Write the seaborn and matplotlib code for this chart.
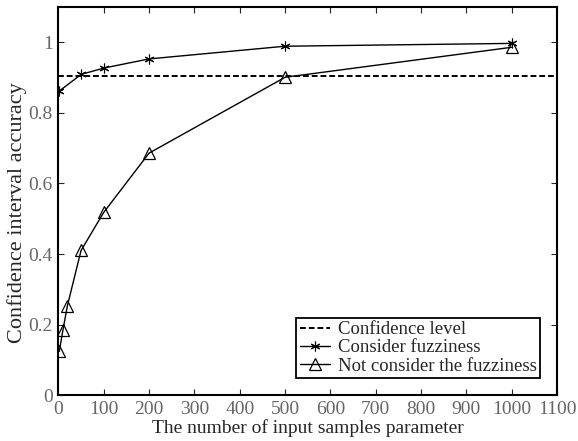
import numpy as np
import pandas as pd
import seaborn as sns
import matplotlib.pyplot as plt

# readings from the reference figure
n_fuzzy = [2, 50, 100, 200, 500, 1000]
acc_fuzzy = [0.862, 0.909, 0.927, 0.953, 0.989, 0.997]

n_plain = [2, 10, 20, 50, 100, 200, 500, 1000]
acc_plain = [0.124, 0.184, 0.254, 0.41, 0.518, 0.686, 0.901, 0.986]

conf_level = 0.905
xticks = list(range(0, 1101, 100))
yticks = [0, 0.2, 0.4, 0.6, 0.8, 1]

sns.set_style("ticks")
plt.rcParams["font.family"] = ["Liberation Serif", "DejaVu Serif"]

fig = plt.figure(figsize=(5.78, 4.41), dpi=100)
ax = fig.add_axes([0.101, 0.104, 0.863, 0.880])

ax.axhline(conf_level, color="k", ls=(0, (3, 1.5)), lw=1.4, label="Confidence level")
df_f = pd.DataFrame({"n": n_fuzzy, "acc": acc_fuzzy})
sns.lineplot(data=df_f, x="n", y="acc", ax=ax, color="k", lw=1.0, marker=(6, 2, 0),
             markersize=7, markeredgecolor="k", markeredgewidth=0.8,
             label="Consider fuzziness")
df_p = pd.DataFrame({"n": n_plain, "acc": acc_plain})
sns.lineplot(data=df_p, x="n", y="acc", ax=ax, color="k", lw=1.0, marker="^",
             markersize=9, markerfacecolor="none", markeredgecolor="k",
             markeredgewidth=0.9, label="Not consider the fuzziness")

ax.set_xlim(0, 1100)
ax.set_ylim(0, 1.1)
ax.set_xticks(xticks)
ax.set_yticks(yticks)
ax.set_yticklabels(["0", "0.2", "0.4", "0.6", "0.8", "1"])
ax.tick_params(direction="in", top=True, right=True, length=4, width=0.8,
               labelsize=14, labelcolor="#666666", pad=4)
for s in ax.spines.values():
    s.set_linewidth(1.5)
    s.set_color("k")
ax.set_xlabel("The number of input samples parameter", fontsize=14, labelpad=1)
ax.set_ylabel("Confidence interval accuracy", fontsize=16)
ax.yaxis.set_label_coords(-0.062, 0.47)

leg = ax.legend(loc="lower right", fontsize=13.5, frameon=True, fancybox=False,
                edgecolor="k", framealpha=1, borderpad=0.2, labelspacing=0.05,
                handlelength=1.6, handletextpad=0.4, borderaxespad=0.9)
leg.get_frame().set_linewidth(1.3)

fig.savefig("out.png", dpi=100)
